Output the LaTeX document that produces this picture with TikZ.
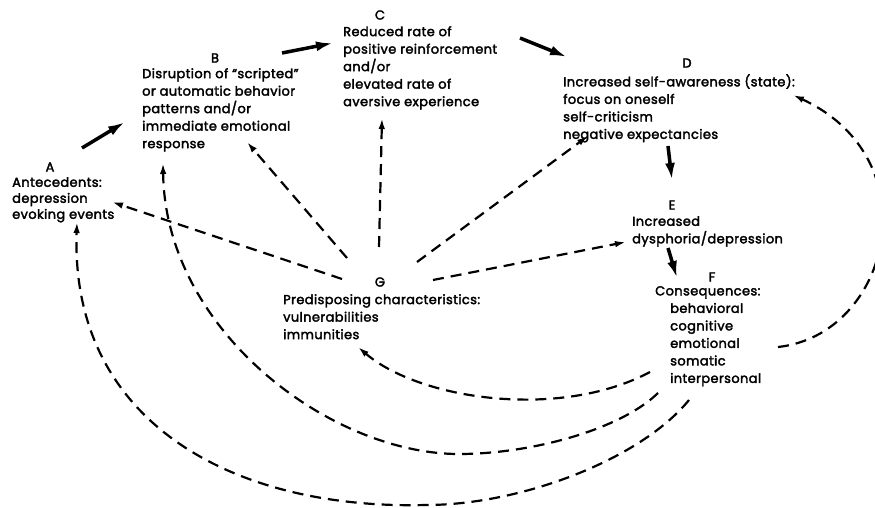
\documentclass[tikz,border=0pt]{standalone}
\usepackage{fontspec}
\setmainfont{Poppins}[FakeBold=2.5, LetterSpace=3]
\usetikzlibrary{arrows.meta}
\begin{document}
\begin{tikzpicture}[x=1pt,y=-1pt,
  txt/.style={font=\fontsize{13}{17.5}\selectfont, align=left, inner sep=0pt, anchor=north west},
  lett/.style={font=\fontsize{13}{14}\selectfont, inner sep=0pt},
  bigarr/.style={line width=3.5pt, -{Latex[length=17pt,width=10pt]}},
  dasharr/.style={line width=2.2pt, dash pattern=on 11pt off 7pt, -{Latex[length=11pt,width=6.5pt]}}]
\useasboundingbox (0,0) rectangle (875,508);
% letters
\node[lett] (lA) at (50,167) {A};
\node[lett] (lB) at (215,58) {B};
\node[lett] (lC) at (380,15) {C};
\node[lett] (lD) at (687,63) {D};
\node[lett] (lE) at (672,205) {E};
\node[lett] (lF) at (712,277) {F};
\node[lett] (lG) at (380,282) {G};
% texts
\node[txt,font=\fontsize{13}{16}\selectfont] (A) at (12,177) {Antecedents:\\depression\\evoking events};
\node[txt] (B) at (142,68) {Disruption of “scripted”\\or automatic behavior\\patterns and/or\\immediate emotional\\response};
\node[txt] (C) at (343,26) {Reduced rate of\\positive reinforcement\\and/or\\elevated rate of\\aversive experience};
\node[txt] (D) at (563,74) {Increased self-awareness (state):\\focus on oneself\\self-criticism\\negative expectancies};
\node[txt] (E) at (632,216) {Increased\\dysphoria/depression};
\node[txt] (F) at (655,286) {Consequences:\\\hspace*{15pt}behavioral\\\hspace*{15pt}cognitive\\\hspace*{15pt}emotional\\\hspace*{15pt}somatic\\\hspace*{15pt}interpersonal};
\node[txt] (G) at (283,294) {Predisposing characteristics:\\vulnerabilities\\immunities};
% main chain
\draw[bigarr] ([shift={(70,-29)}]A.north west) -- ([shift={(-17,54)}]B.north west);
\draw[bigarr] ([shift={(140,-15)}]B.north west) -- ([shift={(-10,17)}]C.north west);
\draw[bigarr] ([shift={(177,12)}]C.north west) -- ([shift={(4,-17)}]D.north west);
\draw[bigarr] ([shift={(105,72)}]D.north west) -- ([shift={(40,-36)}]E.north west);
\draw[bigarr] ([shift={(36,32)}]E.north west) -- ([shift={(22,-8)}]F.north west);
% from G
\draw[dasharr] ([shift={(59,-15)}]G.north west) -- ([shift={(100,25)}]A.north west);
\draw[dasharr] ([shift={(64,-36)}]G.north west) -- ([shift={(105,74)}]B.north west);
\draw[dasharr] ([shift={(96,-47)}]G.north west) -- ([shift={(39,92)}]C.north west);
\draw[dasharr] ([shift={(134,-32)}]G.north west) -- ([shift={(25,62)}]D.north west);
\draw[dasharr] ([shift={(150,-14)}]G.north west) -- ([shift={(-6,26)}]E.north west);
% feedback arcs from F
\draw[dasharr] ([shift={(123,61)}]F.north west) .. controls +(112,-12) and +(140,65) .. ([shift={(230,21)}]D.north west);
\draw[dasharr] ([shift={(-5,86)}]F.north west) .. controls +(-90,48) and +(62,53) .. ([shift={(75,53)}]G.north west);
\coordinate (bB) at (459,454);
\coordinate (bA) at (426,505);
\draw[dasharr] ([shift={(3,107)}]F.north west) .. controls +(-38,37) and +(71,0) .. (bB)
  .. controls +(-129,0) and +(2,167) .. ([shift={(21,95)}]B.north west);
\draw[dasharr] ([shift={(34,114)}]F.north west) .. controls +(-49,60) and +(94,0) .. (bA)
  .. controls +(-196,5) and +(-7,198) .. ([shift={(65,45)}]A.north west);
\end{tikzpicture}
\end{document}
